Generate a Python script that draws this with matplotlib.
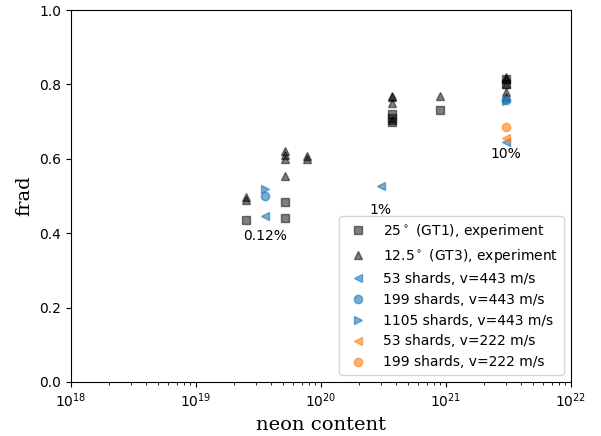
import numpy as np
import matplotlib
matplotlib.use('Agg')
import matplotlib.pyplot as plt

# GT1 (25 deg) experiment
gt1_ne = [2.5e19, 5.2e19, 5.2e19, 3.7e20, 3.7e20, 3.7e20, 8.9e20, 3e21, 3e21]
gt1_frad = [0.435, 0.485, 0.442, 0.70, 0.71, 0.72, 0.731, 0.80, 0.815]

# GT3 (12.5 deg) experiment
gt3_ne = [2.5e19, 2.5e19, 5.2e19, 5.2e19, 5.2e19, 5.2e19, 7.7e19, 7.7e19,
          3.7e20, 3.7e20, 3.7e20, 3.7e20, 8.9e20,
          3e21, 3e21, 3e21, 3e21, 3e21]
gt3_frad = [0.49, 0.497, 0.555, 0.60, 0.61, 0.62, 0.60, 0.608,
            0.705, 0.75, 0.765, 0.77, 0.77,
            0.765, 0.78, 0.80, 0.815, 0.82]

# simulations, v=443 m/s
s53_443_ne = [3.6e19, 3.0e20, 3e21]
s53_443_frad = [0.447, 0.528, 0.645]
s199_443_ne = [3.6e19, 3e21]
s199_443_frad = [0.50, 0.758]
s1105_443_ne = [3.6e19, 3e21]
s1105_443_frad = [0.518, 0.755]

# simulations, v=222 m/s
s53_222_ne = [3e21]
s53_222_frad = [0.655]
s199_222_ne = [3e21]
s199_222_frad = [0.685]

notes = ["0.12%", "1%", "10%"]
note_ne = [3.6e19, 3.0e20, 3e21]
note_frad = [0.392, 0.462, 0.613]

fig, ax = plt.subplots(figsize=(6.01, 4.36), dpi=100)

ax.plot(gt1_ne, gt1_frad, 's', color='k', alpha=0.5, label=r'25$^\circ$ (GT1), experiment')
ax.plot(gt3_ne, gt3_frad, '^', color='k', alpha=0.5, label=r'12.5$^\circ$ (GT3), experiment')
ax.plot(s53_443_ne, s53_443_frad, '<', color='C0', alpha=0.6, label='53 shards, v=443 m/s')
ax.plot(s199_443_ne, s199_443_frad, 'o', color='C0', alpha=0.6, label='199 shards, v=443 m/s')
ax.plot(s1105_443_ne, s1105_443_frad, '>', color='C0', alpha=0.6, label='1105 shards, v=443 m/s')
ax.plot(s53_222_ne, s53_222_frad, '<', color='C1', alpha=0.6, label='53 shards, v=222 m/s')
ax.plot(s199_222_ne, s199_222_frad, 'o', color='C1', alpha=0.6, label='199 shards, v=222 m/s')

for txt, xx, yy in zip(notes, note_ne, note_frad):
    ax.text(xx, yy, txt, ha='center', va='center', fontsize=10)

ax.set_xscale('log')
ax.set_xlim(1e18, 1e22)
ax.set_ylim(0, 1)
ax.set_xlabel('neon content', fontsize=14, family='DejaVu Serif')
ax.set_ylabel('frad', fontsize=14, family='DejaVu Serif')
ax.legend(loc='lower right')

fig.subplots_adjust(left=0.118, right=0.95, top=0.977, bottom=0.124)
plt.savefig('out.png', dpi=100)
